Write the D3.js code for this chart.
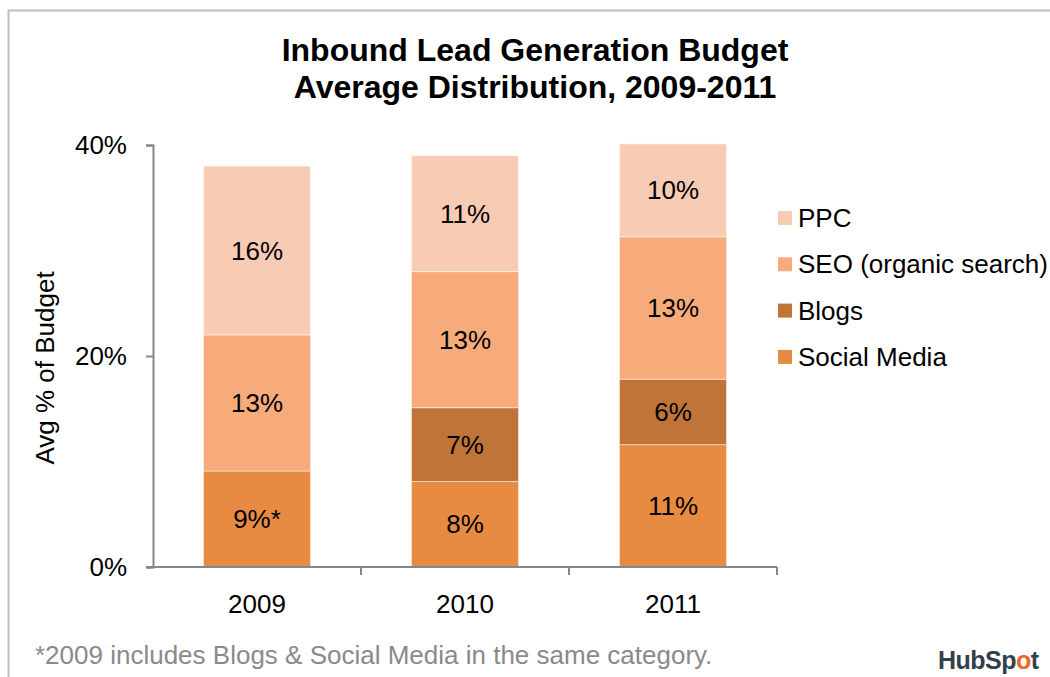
<!DOCTYPE html>
<html>
<head>
<meta charset="utf-8">
<script src="https://cdn.jsdelivr.net/npm/d3@7"></script>
<style>
  body { margin: 0; background: #fff; }
  text { font-family: "Liberation Sans", Arial, sans-serif; }
</style>
</head>
<body>
<div id="chart"></div>
<script>
// data
var years = ['2009', '2010', '2011'];
var seriesNames = ['Social Media', 'Blogs', 'SEO (organic search)', 'PPC'];
var socialMedia = [9.1, 8.1, 11.6];
var blogs = [0, 7.0, 6.2];
var seo = [12.9, 12.9, 13.5];
var ppc = [16.0, 11.0, 8.8];
var socialLabels = ['9%*', '8%', '11%'];
var blogsLabels = ['', '7%', '6%'];
var seoLabels = ['13%', '13%', '13%'];
var ppcLabels = ['16%', '11%', '10%'];
var yTicks = [0, 20, 40];
var legendOrder = ['PPC', 'SEO (organic search)', 'Blogs', 'Social Media'];

var colors = {
  'Social Media': '#e88b42',
  'Blogs': '#c07437',
  'SEO (organic search)': '#f7ab7a',
  'PPC': '#f8cbb4'
};

var width = 1050, height = 677;
var fs = 26;

var svg = d3.select('#chart').append('svg')
  .attr('width', width)
  .attr('height', height);

// outer frame
svg.append('rect')
  .attr('x', 8.5).attr('y', 10.5)
  .attr('width', 1100).attr('height', 800)
  .attr('fill', 'none')
  .attr('stroke', '#bfbfbf')
  .attr('stroke-width', 2);

svg.append('text')
  .attr('x', 535).attr('y', 61)
  .attr('text-anchor', 'middle')
  .attr('font-size', 32).attr('font-weight', 'bold')
  .text('Inbound Lead Generation Budget');
svg.append('text')
  .attr('x', 535).attr('y', 98)
  .attr('text-anchor', 'middle')
  .attr('font-size', 32).attr('font-weight', 'bold')
  .text('Average Distribution, 2009-2011');

var x = d3.scaleBand()
  .domain(years)
  .range([153, 777])
  .paddingInner(0.485)
  .paddingOuter(0.2425);

var y = d3.scaleLinear()
  .domain([0, 40])
  .range([567, 145]);

var rows = years.map(function(yr, i){
  return {
    year: yr,
    'Social Media': socialMedia[i],
    'Blogs': blogs[i],
    'SEO (organic search)': seo[i],
    'PPC': ppc[i],
    labels: {
      'Social Media': socialLabels[i],
      'Blogs': blogsLabels[i],
      'SEO (organic search)': seoLabels[i],
      'PPC': ppcLabels[i]
    }
  };
});

var stacked = d3.stack().keys(seriesNames)(rows);

var layer = svg.selectAll('.layer')
  .data(stacked)
  .enter().append('g')
  .attr('class', 'layer')
  .attr('fill', function(d){ return colors[d.key]; });

layer.selectAll('rect')
  .data(function(d){ return d.filter(function(p){ return p[1] - p[0] > 0; }); })
  .enter().append('rect')
  .attr('x', function(d){ return x(d.data.year); })
  .attr('y', function(d){ return y(d[1]); })
  .attr('width', x.bandwidth())
  .attr('height', function(d){ return y(d[0]) - y(d[1]); })
  .attr('stroke', '#fff')
  .attr('stroke-opacity', 0.5)
  .attr('stroke-width', 1);

stacked.forEach(function(s){
  svg.selectAll(null)
    .data(s.filter(function(p){ return p[1] - p[0] > 0; }))
    .enter().append('text')
    .attr('x', function(d){ return x(d.data.year) + x.bandwidth()/2; })
    .attr('y', function(d){ return (y(d[0]) + y(d[1]))/2 + 9; })
    .attr('text-anchor', 'middle')
    .attr('font-size', fs)
    .attr('fill', '#000')
    .text(function(d){ return d.data.labels[s.key]; });
});

// y axis
var yAxis = svg.append('g')
  .attr('transform', 'translate(153,0)')
  .call(d3.axisLeft(y).tickValues(yTicks).tickSize(7).tickPadding(19)
    .tickFormat(function(d){ return d + '%'; }));
yAxis.select('.domain').attr('stroke', '#868686').attr('stroke-width', 2);
yAxis.selectAll('.tick line').attr('stroke', '#868686').attr('stroke-width', 2);
yAxis.selectAll('.tick text')
  .attr('font-size', fs).attr('fill', '#000')
  .attr('font-family', '"Liberation Sans", Arial, sans-serif');

// x axis
var xAxis = svg.append('g')
  .attr('transform', 'translate(0,567)')
  .call(d3.axisBottom(x).tickSize(0).tickPadding(28));
xAxis.select('.domain').attr('stroke', '#868686').attr('stroke-width', 2)
  .attr('d', 'M146,0H777');
xAxis.selectAll('.tick text')
  .attr('font-size', fs).attr('fill', '#000')
  .attr('font-family', '"Liberation Sans", Arial, sans-serif');
var step = x.step();
svg.append('g').selectAll('line')
  .data(d3.range(1, years.length + 1))
  .enter().append('line')
  .attr('x1', function(d){ return 153 + d*step; })
  .attr('x2', function(d){ return 153 + d*step; })
  .attr('y1', 567).attr('y2', 575)
  .attr('stroke', '#868686').attr('stroke-width', 2);

svg.append('text')
  .attr('transform', 'translate(54,368) rotate(-90)')
  .attr('text-anchor', 'middle')
  .attr('font-size', fs)
  .text('Avg % of Budget');

// legend
var legend = svg.selectAll('.legend')
  .data(legendOrder)
  .enter().append('g')
  .attr('class', 'legend')
  .attr('transform', function(d, i){ return 'translate(778,' + (218 + i*46.3) + ')'; });
legend.append('rect')
  .attr('x', 0).attr('y', -7)
  .attr('width', 14).attr('height', 14)
  .attr('fill', function(d){ return colors[d]; });
legend.append('text')
  .attr('x', 20).attr('y', 9)
  .attr('font-size', fs)
  .text(function(d){ return d; });

svg.append('text')
  .attr('x', 35).attr('y', 664)
  .attr('font-size', fs)
  .attr('fill', '#8a8a8a')
  .text('*2009 includes Blogs & Social Media in the same category.');

// logo
var logo = svg.append('text')
  .attr('x', 938).attr('y', 669)
  .attr('font-size', 25).attr('font-weight', 'bold')
  .attr('fill', '#33404a')
  .attr('font-family', '"DejaVu Sans", sans-serif')
  .attr('letter-spacing', -0.5);
logo.append('tspan').text('HubSp');
logo.append('tspan').attr('fill', '#e9682b').text('o');
logo.append('tspan').text('t');
</script>
</body>
</html>
